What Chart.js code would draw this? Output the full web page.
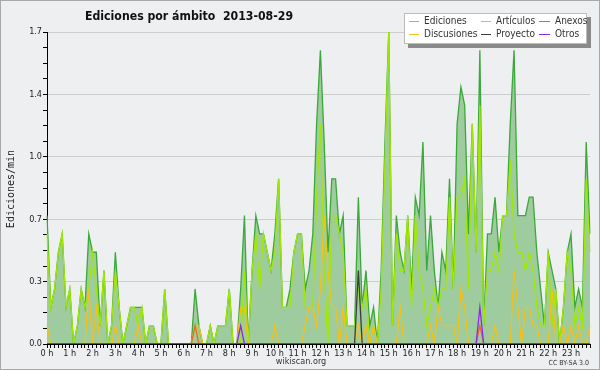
<!DOCTYPE html>
<html>
<head>
<meta charset="utf-8">
<script src="https://cdn.jsdelivr.net/npm/chart.js@4.4.0/dist/chart.umd.min.js"></script>
<style>
  body { margin: 0; background: #eeeff1; }
  canvas { display: block; }
</style>
</head>
<body>
<canvas id="mycanvas" width="600" height="370"></canvas>
<script>
// one value every 10 minutes, edits per minute
var hours = ['0 h','1 h','2 h','3 h','4 h','5 h','6 h','7 h','8 h','9 h','10 h','11 h',
             '12 h','13 h','14 h','15 h','16 h','17 h','18 h','19 h','20 h','21 h','22 h','23 h'];

var ediciones = [
  0.7,0.2,0.3,0.5,0.6,0.2,  0.3,0.0,0.1,0.3,0.2,0.6,  0.5,0.5,0.1,0.4,0.0,0.1,  0.5,0.2,0.0,0.1,0.2,0.2,
  0.2,0.2,0.0,0.1,0.1,0.0,  0.0,0.3,0.0,0.0,0.0,0.0,  0.0,0.0,0.0,0.3,0.1,0.0,  0.0,0.1,0.0,0.1,0.1,0.1,
  0.3,0.0,0.0,0.3,0.7,0.0,  0.4,0.7,0.6,0.6,0.5,0.4,  0.6,0.9,0.2,0.2,0.3,0.5,  0.6,0.6,0.3,0.4,0.6,1.2,
  1.6,1.1,0.5,0.9,0.9,0.6,  0.7,0.1,0.1,0.1,0.8,0.2,  0.4,0.1,0.2,0.0,0.4,1.1,  1.7,0.1,0.7,0.5,0.4,0.7,
  0.3,0.8,0.7,1.1,0.4,0.7,  0.4,0.2,0.5,0.4,0.9,0.3,  1.2,1.4,1.3,0.6,1.2,0.5,  1.6,0.1,0.6,0.6,0.8,0.5,
  0.7,0.7,1.2,1.6,0.7,0.7,  0.7,0.8,0.8,0.5,0.3,0.1,  0.5,0.4,0.3,0.0,0.2,0.5,  0.6,0.2,0.3,0.2,1.1,0.6
];
var articulos = [
  0.6,0.2,0.3,0.5,0.6,0.2,  0.3,0.0,0.1,0.3,0.2,0.3,  0.5,0.3,0.1,0.4,0.0,0.1,  0.4,0.2,0.0,0.1,0.2,0.2,
  0.1,0.2,0.0,0.1,0.1,0.0,  0.0,0.3,0.0,0.0,0.0,0.0,  0.0,0.0,0.0,0.1,0.0,0.0,  0.0,0.1,0.0,0.1,0.1,0.1,
  0.3,0.0,0.0,0.0,0.4,0.0,  0.4,0.6,0.3,0.6,0.5,0.4,  0.5,0.9,0.2,0.2,0.2,0.5,  0.6,0.6,0.2,0.2,0.2,0.8,
  1.2,0.4,0.0,0.7,0.7,0.6,  0.5,0.1,0.1,0.1,0.3,0.2,  0.3,0.0,0.1,0.0,0.3,1.0,  1.7,0.1,0.6,0.4,0.4,0.7,
  0.2,0.7,0.4,0.3,0.1,0.2,  0.3,0.2,0.3,0.3,0.8,0.3,  0.8,0.8,0.9,0.3,1.2,0.5,  1.3,0.1,0.4,0.4,0.5,0.4,
  0.7,0.7,1.0,0.6,0.5,0.5,  0.4,0.5,0.4,0.2,0.1,0.1,  0.5,0.1,0.3,0.0,0.2,0.5,  0.4,0.1,0.2,0.1,0.9,0.5
];
var anexos = [
  0,0,0,0,0,0,  0,0,0,0,0,0,  0,0,0,0,0,0,  0,0,0,0,0,0,
  0,0,0,0,0,0,  0,0,0,0,0,0,  0,0,0,0.1,0,0,  0,0,0,0,0,0,
  0,0,0,0,0,0,  0,0,0,0,0,0,  0,0,0,0,0,0,  0,0,0,0,0,0,
  0,0,0,0,0,0,  0,0,0,0,0,0,  0,0,0,0,0,0,  0,0,0,0,0,0,
  0,0,0,0,0,0,  0,0,0,0,0,0,  0,0,0,0,0,0,  0.1,0,0,0,0,0,
  0,0,0,0,0,0,  0,0,0,0,0,0,  0,0,0,0,0,0,  0,0,0,0,0,0
];
var discusiones = [
  0.1,0,0,0,0,0,  0,0,0,0,0,0.3,  0,0.2,0,0,0,0,  0.1,0,0,0,0,0,
  0.1,0,0,0,0,0,  0,0,0,0,0,0,  0,0,0,0.1,0.1,0,  0,0,0,0,0,0,
  0,0,0,0.2,0.2,0,  0,0,0,0,0,0,  0.1,0,0,0,0,0,  0,0,0.1,0.2,0.2,0.1,
  0.3,0.7,0.4,0.2,0.2,0,  0.2,0,0,0,0.1,0,  0.1,0,0.1,0,0,0,  0,0,0,0.2,0,0,
  0,0,0,0,0,0.1,  0,0.2,0.1,0.1,0.1,0.1,  0,0.3,0.2,0,0,0,  0,0,0,0,0.1,0,
  0,0,0,0.4,0.2,0,  0.2,0.2,0.1,0.1,0,0,  0,0.3,0,0,0.1,0,  0.1,0,0.1,0,0,0.1
];
var proyecto = [
  0,0,0,0,0,0,  0,0,0,0,0,0,  0,0,0,0,0,0,  0,0,0,0,0,0,
  0,0,0,0,0,0,  0,0,0,0,0,0,  0,0,0,0,0,0,  0,0,0,0,0,0,
  0,0,0,0,0,0,  0,0,0,0,0,0,  0,0,0,0,0,0,  0,0,0,0,0,0,
  0,0,0,0,0,0,  0,0,0,0,0.4,0,  0,0,0,0,0,0,  0,0,0,0,0,0,
  0,0,0,0,0,0,  0,0,0,0,0,0,  0,0,0,0,0,0,  0,0,0,0,0,0,
  0,0,0,0,0,0,  0,0,0,0,0,0,  0,0,0,0,0,0,  0,0,0,0,0,0
];
var otros = [
  0,0,0,0,0,0,  0,0,0,0,0,0,  0,0,0,0,0,0,  0,0,0,0,0,0,
  0,0,0,0,0,0,  0,0,0,0,0,0,  0,0,0,0,0,0,  0,0,0,0,0,0,
  0,0,0,0.1,0,0,  0,0,0,0,0,0,  0,0,0,0,0,0,  0,0,0,0,0,0,
  0,0,0,0,0,0,  0,0,0,0,0,0,  0,0,0,0,0,0,  0,0,0,0,0,0,
  0,0,0,0,0,0,  0,0,0,0,0,0,  0,0,0,0,0,0,  0.2,0,0,0,0,0,
  0,0,0,0,0,0,  0,0,0,0,0,0,  0,0,0,0,0,0,  0,0,0,0,0,0
];

var FONT = '"DejaVu Sans Condensed", "DejaVu Sans", sans-serif';

// 10 minute slots labelled by hour
var slots = [];
for (var h = 0; h < hours.length; h++) {
    for (var m = 0; m < 6; m++) {
        slots.push(hours[h] + (m ? ' ' + m + '0' : ''));
    }
}

function line(label, data, color, order) {
    return {
        label: label,
        data: data,
        borderColor: color,
        backgroundColor: color,
        borderWidth: 1.3,
        pointRadius: 0,
        tension: 0,
        fill: false,
        order: order
    };
}

var edits = line('Ediciones', ediciones, 'rgb(58,168,58)', 10);
edits.fill = 'origin';
edits.backgroundColor = 'rgb(158,204,158)';
edits.legendColor = 'rgb(120,205,120)';

var datasets = [
    edits,
    line('Artículos', articulos, 'rgb(160,232,0)', 5),
    line('Anexos', anexos, 'rgb(240,100,50)', 3),
    line('Discusiones', discusiones, 'rgb(246,192,20)', 4),
    line('Proyecto', proyecto, 'rgb(60,60,60)', 2),
    line('Otros', otros, 'rgb(140,40,230)', 1)
];

var decor = {
    id: 'decor',
    beforeDraw: function(chart) {
        var c = chart.ctx;
        c.save();
        c.fillStyle = '#eeeff1';
        c.fillRect(0, 0, chart.width, chart.height);
        c.strokeStyle = '#a8a8a8';
        c.lineWidth = 1;
        c.strokeRect(0.5, 0.5, chart.width - 1, chart.height - 1);
        c.restore();
    },
    afterDraw: function(chart) {
        var c = chart.ctx;
        c.save();

        // title
        var title = 'Ediciones por ámbito  2013-08-29';
        c.font = 'bold 12px ' + FONT;
        var size = 12 * 208 / c.measureText(title).width;
        c.font = 'bold ' + size.toFixed(1) + 'px ' + FONT;
        c.fillStyle = '#111';
        c.textAlign = 'left';
        c.textBaseline = 'middle';
        c.fillText(title, 85, 17);

        // axis title
        c.save();
        c.translate(11, 189);
        c.rotate(-Math.PI / 2);
        c.font = '10px "DejaVu Sans Mono", monospace';
        c.textAlign = 'center';
        c.fillStyle = '#222';
        c.fillText('Ediciones/min', 0, 0);
        c.restore();

        // footer
        c.font = '9px ' + FONT;
        c.textAlign = 'center';
        c.fillStyle = '#333';
        c.fillText('wikiscan.org', 301, 362);
        c.font = '7px ' + FONT;
        c.textAlign = 'right';
        c.fillText('CC BY-SA 3.0', 589, 363);

        // legend box
        c.fillStyle = '#8a8a8a';
        c.fillRect(408, 17, 183, 31);
        c.fillStyle = '#ffffff';
        c.fillRect(404, 13, 183, 31);
        c.strokeStyle = '#bcbcbc';
        c.strokeRect(404.5, 13.5, 182, 30);

        var cols = [[409, 424], [481, 496], [539, 555]];
        var rows = [21, 34];
        var sets = chart.data.datasets;
        c.font = '10px ' + FONT;
        c.textAlign = 'left';
        for (var i = 0; i < sets.length; i++) {
            var col = cols[i % 3], y = rows[Math.floor(i / 3)];
            c.strokeStyle = sets[i].legendColor || sets[i].borderColor;
            c.lineWidth = 1;
            c.beginPath();
            c.moveTo(col[0], y + 0.5);
            c.lineTo(col[1] - 5, y + 0.5);
            c.stroke();
            c.fillStyle = '#333';
            c.fillText(sets[i].label, col[1], y);
        }
        c.restore();
    }
};

var ctx = document.getElementById('mycanvas');

var chart = new Chart(ctx, {
    type: 'line',
    data: { labels: slots, datasets: datasets },
    plugins: [decor],
    options: {
        responsive: false,
        animation: false,
        devicePixelRatio: 1,
        layout: { padding: { top: 32, right: 10, left: 0, bottom: 0 } },
        plugins: {
            legend: { display: false },
            tooltip: { enabled: false }
        },
        scales: {
            x: {
                grid: { drawOnChartArea: false, color: '#000', tickColor: '#000', tickLength: 4 },
                border: { color: '#000', width: 1 },
                ticks: {
                    autoSkip: false,
                    maxRotation: 0,
                    padding: 0,
                    color: '#222',
                    font: { family: FONT, size: 9 },
                    callback: function(v, i) { return i % 6 === 0 ? hours[i / 6] : ''; }
                },
                afterFit: function(s) { s.height = 26; }
            },
            y: {
                min: 0,
                max: 1.7,
                grid: {
                    color: function(c) { return (c.index % 4 === 0 && c.index > 0) ? '#cdcdcd' : 'rgba(0,0,0,0)'; },
                    tickColor: '#000',
                    tickLength: 4
                },
                border: { color: '#000', width: 1 },
                ticks: {
                    stepSize: 0.085,
                    padding: 1,
                    color: '#222',
                    font: { family: FONT, size: 9 },
                    callback: function(v, i) { return i % 4 === 0 ? v.toFixed(1) : ''; }
                },
                afterFit: function(s) { s.width = 47; }
            }
        }
    }
});
</script>
</body>
</html>
